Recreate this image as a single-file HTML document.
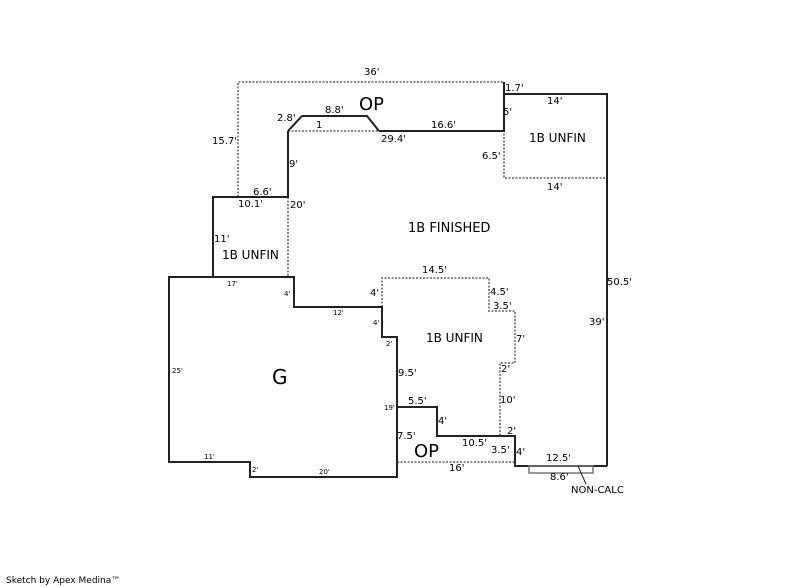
<!DOCTYPE html>
<html><head><style>
html,body{margin:0;padding:0;background:#fff;}
svg{display:block;font-family:"DejaVu Sans","Liberation Sans",sans-serif;}
text{fill:#000;}
.s{stroke:#222;stroke-width:2;fill:none;}
.d{stroke:#888;stroke-width:2;fill:none;stroke-dasharray:2,1.5;}
.l{font-size:10px;}
.t{font-size:7px;}
</style></head><body>
<svg width="800" height="587" viewBox="0 0 800 587">
<!-- dotted lines -->
<path class="d" d="M238,197 V82 H504"/>
<path class="d" d="M504,130 V178 H607"/>
<path class="d" d="M288,131 H379"/>
<path class="d" d="M288,197 V277"/>
<path class="d" d="M382,307 V278 H489 V311 H515 V363 H500 V436"/>
<path class="d" d="M397,462 H515"/>
<!-- solid lines -->
<path class="s" d="M504,82 V94 H607 V466"/>
<path class="s" d="M379,131 H504 V94"/>
<path class="s" d="M288,131 L302,116 H367 L379,131"/>
<path class="s" d="M288,131 V197 H213 V277"/>
<path class="s" d="M169,277 H294 V307 H382 V337 H397 V477 H250 V462 H169 Z"/>
<path class="s" d="M397,407 H437 V436 H515 V466 H607"/>
<rect x="529" y="466" width="64" height="7" fill="none" stroke="#777" stroke-width="1.5"/>
<line x1="578" y1="466" x2="586" y2="484" stroke="#222" stroke-width="1"/>
<!-- labels -->
<text class="l" x="364" y="75">36'</text>
<text class="l" x="505" y="91">1.7'</text>
<text class="l" x="547" y="104">14'</text>
<text class="l" x="503" y="115">5'</text>
<text class="l" x="325" y="113">8.8'</text>
<text x="359" y="110" style="font-size:18px">OP</text>
<text class="l" x="277" y="121">2.8'</text>
<text class="l" x="316" y="128">1</text>
<text class="l" x="431" y="128">16.6'</text>
<text class="l" x="212" y="144">15.7'</text>
<text class="l" x="381" y="142">29.4'</text>
<text x="529" y="142" style="font-size:12px">1B UNFIN</text>
<text class="l" x="482" y="159">6.5'</text>
<text class="l" x="289" y="167">9'</text>
<text class="l" x="547" y="190">14'</text>
<text class="l" x="253" y="195">6.6'</text>
<text class="l" x="238" y="207">10.1'</text>
<text class="l" x="290" y="208">20'</text>
<text x="408" y="232" style="font-size:13px">1B FINISHED</text>
<text class="l" x="214" y="242">11'</text>
<text x="222" y="259" style="font-size:12px">1B UNFIN</text>
<text class="l" x="422" y="273">14.5'</text>
<text class="l" x="607" y="285">50.5'</text>
<text class="t" x="227" y="286">17'</text>
<text class="t" x="284" y="296">4'</text>
<text class="l" x="370" y="296">4'</text>
<text class="l" x="490" y="295">4.5'</text>
<text class="l" x="493" y="309">3.5'</text>
<text class="t" x="333" y="315">12'</text>
<text class="t" x="373" y="325">4'</text>
<text class="l" x="589" y="325">39'</text>
<text x="426" y="342" style="font-size:12px">1B UNFIN</text>
<text class="l" x="516" y="342">7'</text>
<text class="t" x="386" y="346">2'</text>
<text class="t" x="172" y="373">25'</text>
<text x="272" y="384" style="font-size:20px">G</text>
<text class="l" x="398" y="376">9.5'</text>
<text class="l" x="501" y="372">2'</text>
<text class="l" x="408" y="404">5.5'</text>
<text class="l" x="500" y="403">10'</text>
<text class="t" x="384" y="410">19'</text>
<text class="l" x="438" y="424">4'</text>
<text class="l" x="507" y="434">2'</text>
<text class="l" x="397" y="439">7.5'</text>
<text class="l" x="462" y="446">10.5'</text>
<text x="414" y="457" style="font-size:18px">OP</text>
<text class="l" x="491" y="453">3.5'</text>
<text class="l" x="516" y="455">4'</text>
<text class="l" x="546" y="461">12.5'</text>
<text class="t" x="204" y="459">11'</text>
<text class="t" x="252" y="472">2'</text>
<text class="t" x="319" y="474">20'</text>
<text class="l" x="449" y="471">16'</text>
<text class="l" x="550" y="480">8.6'</text>
<text class="l" x="571" y="493">NON-CALC</text>
<text x="6" y="583" style="font-size:9px">Sketch by Apex Medina™</text>
</svg>
</body></html>
